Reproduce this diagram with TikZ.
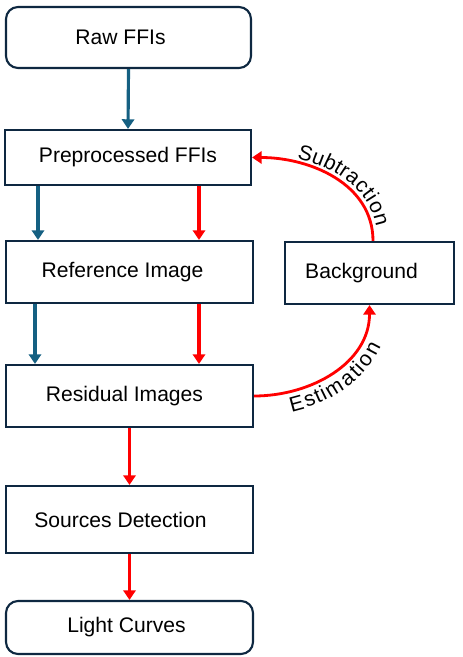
\documentclass[tikz,border=0pt]{standalone}
\usepackage{fontspec}
\setmainfont{Liberation Sans}
\usetikzlibrary{arrows.meta, decorations.text}
\definecolor{boxline}{HTML}{0E2841}
\definecolor{flowblue}{HTML}{156082}
\definecolor{flowred}{HTML}{FF0000}

\begin{document}
\begin{tikzpicture}[
		box/.style={draw=boxline, line width=1.2pt, inner sep=0pt, fill=white, font=\fontsize{12}{14}\selectfont},
		rbox/.style={box, rounded corners=0.24cm},
		bluearrow/.style={draw=flowblue, line width=1.8pt, -{Triangle[length=5.5pt,width=7pt]}},
		redarrow/.style={draw=flowred, line width=1.8pt, -{Triangle[length=5.5pt,width=7pt]}},
		arclabel/.style 2 args={decorate, decoration={text along path, raise=#1, text={|\fontsize{12}{14}\selectfont|#2}}},
	]
			\useasboundingbox (0,0) rectangle (9.24,-13.14);
			\node[rbox, minimum width=4.9cm, minimum height=1.22cm] (raw) at (2.57,-0.75) {Raw FFIs\hspace*{0.32cm}};
			\node[box, minimum width=4.92cm, minimum height=1.10cm] (pre) at (2.56,-3.15) {Preprocessed FFIs};
			\node[box, minimum width=4.94cm, minimum height=1.24cm] (ref) at (2.59,-5.44) {Reference Image\hspace*{0.28cm}};
			\node[box, minimum width=4.94cm, minimum height=1.24cm] (res) at (2.59,-7.92) {Residual Images\hspace*{0.2cm}};
			\node[box, minimum width=4.94cm, minimum height=1.34cm] (src) at (2.59,-10.39) {Sources Detection\hspace*{0.36cm}};
			\node[rbox, minimum width=4.94cm, minimum height=1.06cm] (lc) at (2.59,-12.55) {Light Curves\hspace*{0.12cm}};
			\node[box, minimum width=3.38cm, minimum height=1.24cm] (bg) at (7.39,-5.46) {Background\hspace*{0.32cm}};
			\coordinate (bluea) at (0.76,0);
			\coordinate (blueb) at (0.70,0);
			\coordinate (redcol) at (3.98,0);
			\draw[bluearrow] (raw.south) -- (pre.north);
			\draw[bluearrow] (pre.south -| bluea) -- (ref.north -| bluea);
			\draw[redarrow] (pre.south -| redcol) -- (ref.north -| redcol);
			\draw[bluearrow] (ref.south -| blueb) -- (res.north -| blueb);
			\draw[redarrow] (ref.south -| redcol) -- (res.north -| redcol);
			\draw[redarrow] (res.south) -- (src.north);
			\draw[redarrow] (src.south) -- (lc.north);
			\draw[redarrow, line width=1.6pt] ([xshift=0.07cm]bg.north) to[out=90, in=0] (pre.east);
			\draw[redarrow, line width=1.6pt] (res.east) to[out=0, in=-90] (bg.south);
			\path[arclabel={2.5pt}{Subtraction}, decoration={text align={left indent=25pt}}] (pre.east) to[out=0, in=90] ([xshift=0.07cm]bg.north);
			\path[arclabel={-11.5pt}{Estimation}, decoration={text align=center}] (res.east) to[out=0, in=-90] (bg.south);
		\end{tikzpicture}
\end{document}
